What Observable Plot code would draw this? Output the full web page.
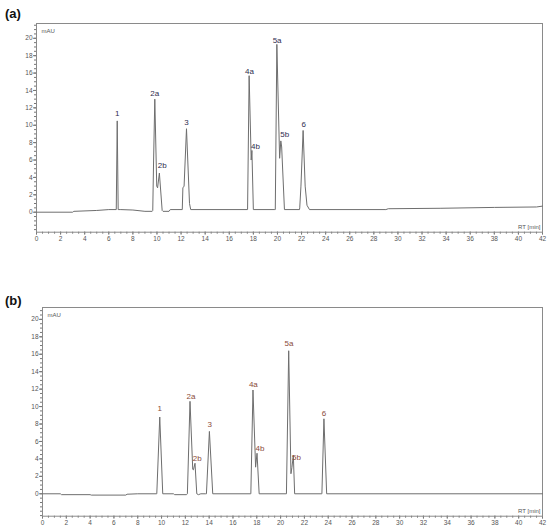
<!DOCTYPE html>
<html>
<head>
<meta charset="utf-8">
<script src="https://cdn.jsdelivr.net/npm/d3@7"></script>
<script src="https://cdn.jsdelivr.net/npm/@observablehq/plot@0.6"></script>
<style>
  body { margin: 0; background: #fff; }
  #wrap { position: relative; width: 550px; height: 532px; font-family: "Liberation Sans", Arial, sans-serif; }
  .panel { position: absolute; left: 0; }
  .tag { position: absolute; left: 5px; font-weight: bold; font-size: 13px; color: #111; z-index: 2; line-height: 14px; }
</style>
</head>
<body>
<div id="wrap">
  <div class="panel" id="pa" style="top:0px"></div>
  <div class="panel" id="pb" style="top:280px"></div>
  <div class="tag" style="top:7px">(a)</div>
  <div class="tag" style="top:294px">(b)</div>
</div>
<script>
// ---- Chromatogram (a): retention time (min) and absorbance (mAU) vertices ----
const rtA = [0, 3, 3.1, 5, 6, 6.6,
  6.62, 6.7, 6.78, 7, 8, 9, 9.6,
  9.65, 9.72, 9.82, 9.98, 10.05, 10.2, 10.43, 10.5, 11, 11.1, 12.1,
  12.15, 12.25, 12.45, 12.7, 12.8, 17.5,
  17.52, 17.65, 17.82, 17.88, 18.0, 19.78,
  19.82, 19.95, 20.18, 20.28, 20.35, 20.58, 21.83,
  21.85, 21.95, 22.13, 22.3, 22.45, 22.66,
  29, 29.2, 33.5, 38, 41.5, 42];
const mauA = [0, 0, 0.1, 0.2, 0.3, 0.3,
  0.3, 10.5, 0.3, 0.3, 0.25, 0.1, 0.1,
  0.2, 6.0, 13.0, 3.0, 2.8, 4.5, 0.2, 0.1, 0.1, 0.3, 0.3,
  2.8, 3.0, 9.6, 1.0, 0.3, 0.3,
  0.3, 15.7, 6.0, 7.1, 0.3, 0.3,
  0.3, 19.3, 6.2, 8.2, 7.5, 0.3, 0.3,
  0.5, 3.0, 9.4, 3.0, 0.8, 0.3,
  0.3, 0.4, 0.45, 0.55, 0.6, 0.7];

// ---- Chromatogram (b) ----
const rtB = [0, 1.5, 1.6, 4, 4.1, 7, 7.1, 8, 9.55,
  9.6, 9.85, 10.1,
  11, 11.1, 12.1,
  12.17, 12.39, 12.62, 12.68, 12.81, 12.96, 13.1, 13.3, 13.7,
  13.77, 14.02, 14.3,
  17.45,
  17.5, 17.68, 17.9, 18.02, 18.2,
  20.45,
  20.49, 20.68, 20.87, 20.95, 21.07, 21.18,
  23.45,
  23.47, 23.64, 23.87,
  42];
const mauB = [0, 0, -0.1, -0.1, -0.15, -0.15, -0.05, 0, 0,
  0, 8.8, 0,
  0, -0.1, -0.1,
  0, 10.6, 2.8, 2.75, 3.5, 0, -0.1, 0, 0,
  0, 7.15, 0,
  0,
  0, 11.9, 3.05, 4.65, 0,
  0,
  0, 16.4, 2.3, 3.0, 4.4, 0,
  0,
  0, 8.6, 0,
  0];

// ---- Peak labels ----
const peakNames = ["1", "2a", "2b", "3", "4a", "4b", "5a", "5b", "6"];
const labelRtA = [6.7, 9.82, 10.43, 12.45, 17.68, 18.18, 19.97, 20.6, 22.18];
const labelMauA = [11.3, 13.6, 5.4, 10.3, 16.2, 7.55, 19.7, 8.9, 10.1];
const labelRtB = [9.85, 12.48, 13.0, 14.05, 17.71, 18.26, 20.71, 21.33, 23.64];
const labelMauB = [9.8, 11.2, 4.1, 8.0, 12.5, 5.2, 17.2, 4.2, 9.25];

// ---- Axis ticks ----
const xMajor = d3.range(0, 42.01, 2);
const xMinor = d3.range(0, 42.01, 0.5);
const yMajor = d3.range(0, 20.01, 2);
const yMinorA = d3.range(-2, 21.6, 0.5);
const yMinorB = d3.range(-2.5, 21.3, 0.5);

function chart(rt, mau, lRt, lMau, opts) {
  const trace = rt.map((t, i) => ({rt: t, mau: mau[i]}));
  const labels = peakNames.map((n, i) => ({name: n, rt: lRt[i], mau: lMau[i]}));
  return Plot.plot({
    width: 550,
    height: opts.height,
    marginTop: opts.mt,
    marginBottom: opts.mb,
    marginLeft: opts.ml,
    marginRight: 8,
    style: {fontFamily: "'Liberation Sans', Arial, sans-serif", fontSize: "6.5px", color: "#555", background: "transparent"},
    x: {domain: [0, 42], label: null},
    y: {domain: opts.ydom, label: null},
    marks: [
      Plot.axisX({ticks: xMinor, tickSize: 2, stroke: "#777", text: null, label: null}),
      Plot.axisX({ticks: xMajor, tickSize: 3, tickPadding: 1, stroke: "#777", fill: "#555", label: null, tickFormat: d => String(d)}),
      Plot.axisY({ticks: opts.yminor, tickSize: 2, stroke: "#777", text: null, label: null}),
      Plot.axisY({ticks: yMajor, tickSize: 3, tickPadding: 1, stroke: "#777", fill: "#555", label: null, tickFormat: d => String(d)}),
      Plot.frame({stroke: "#8a8a8a"}),
      Plot.line(trace, {x: "rt", y: "mau", stroke: "#6e6e6e", strokeWidth: 1, curve: "linear"}),
      Plot.text(labels, {x: "rt", y: "mau", text: "name", fill: opts.labelColor, fontSize: 8}),
      Plot.text(["mAU"], {frameAnchor: "top-left", dx: 5, dy: 5, fontSize: 6, fill: "#555"}),
      Plot.text(["RT [min]"], {frameAnchor: "bottom-right", dx: -2, dy: -3, fontSize: 6, fill: "#555"})
    ]
  });
}

document.getElementById("pa").append(chart(rtA, mauA, labelRtA, labelMauA,
  {height: 250, mt: 23, mb: 18.3, ml: 36, ydom: [-2.3, 21.7], yminor: yMinorA, labelColor: "#2f2d4f"}));
document.getElementById("pb").append(chart(rtB, mauB, labelRtB, labelMauB,
  {height: 252, mt: 27, mb: 16.3, ml: 42, ydom: [-2.57, 21.36], yminor: yMinorB, labelColor: "#8a4b3a"}));
</script>
</body>
</html>
